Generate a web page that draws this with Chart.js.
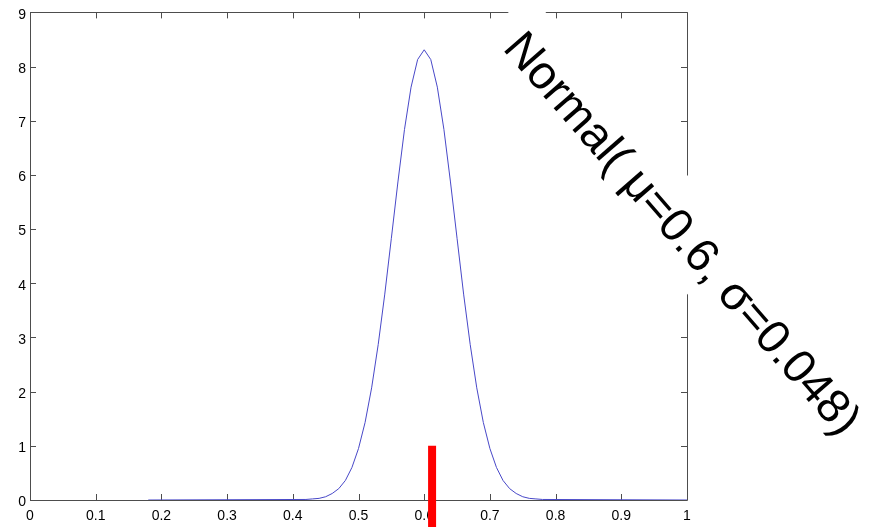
<!DOCTYPE html>
<html>
<head>
<meta charset="utf-8">
<script src="https://cdn.jsdelivr.net/npm/chart.js@4.4.1/dist/chart.umd.min.js"></script>
<style>
  html, body { margin: 0; padding: 0; background: #ffffff; }
  #wrap { width: 874px; height: 527px; }
</style>
</head>
<body>
<div id="wrap"><canvas id="c" width="874" height="527"></canvas></div>
<script>
// Density curve samples
const densityX = [0.18, 0.42, 0.43, 0.44, 0.45, 0.46, 0.47, 0.48, 0.49, 0.50, 0.51, 0.52, 0.53, 0.54,
                  0.55, 0.56, 0.57, 0.58, 0.59, 0.60, 0.61, 0.62, 0.63, 0.64, 0.65, 0.66, 0.67, 0.68,
                  0.69, 0.70, 0.71, 0.72, 0.73, 0.74, 0.75, 0.76, 0.77, 0.78, 1.00];
const densityY = [0.00, 0.01, 0.02, 0.03, 0.06, 0.12, 0.21, 0.36, 0.60, 0.95, 1.43, 2.07, 2.87, 3.80,
                  4.83, 5.87, 6.84, 7.62, 8.13, 8.31, 8.13, 7.62, 6.84, 5.87, 4.83, 3.80, 2.87, 2.07,
                  1.43, 0.95, 0.60, 0.36, 0.21, 0.12, 0.06, 0.03, 0.02, 0.01, 0.00];

// Observed value marker (drawn as a thick vertical stroke running past the axis)
const markerX = 0.612;
const markerY = [1, -0.5];

// Axis ticks
const xTicks = [0, 0.1, 0.2, 0.3, 0.4, 0.5, 0.6, 0.7, 0.8, 0.9, 1];
const yTicks = [0, 1, 2, 3, 4, 5, 6, 7, 8, 9];

// Annotation
const annotationText = 'Normal( \u03bc=0.6, \u03c3=0.048)';
const annotationAt = { x: 0.718, y: 8.33 };
const annotationAngleDeg = 49;

const AXIS_COLOR = '#4d4d4d';
const TICK_LEN = 6;

// Boxed frame with inward ticks on all four sides
const framePlugin = {
  id: 'frame',
  beforeDatasetsDraw(chart) {
    const { ctx, chartArea: a, scales } = chart;
    ctx.save();
    ctx.strokeStyle = AXIS_COLOR;
    ctx.lineWidth = 1;
    ctx.beginPath();
    ctx.rect(Math.round(a.left) + 0.5, Math.round(a.top) + 0.5,
             Math.round(a.right - a.left), Math.round(a.bottom - a.top));
    ctx.stroke();
    ctx.beginPath();
    xTicks.forEach(v => {
      const px = Math.round(scales.x.getPixelForValue(v)) + 0.5;
      ctx.moveTo(px, a.bottom); ctx.lineTo(px, a.bottom - TICK_LEN);
      ctx.moveTo(px, a.top); ctx.lineTo(px, a.top + TICK_LEN);
    });
    yTicks.forEach(v => {
      const py = Math.round(scales.y.getPixelForValue(v)) + 0.5;
      ctx.moveTo(a.left, py); ctx.lineTo(a.left + TICK_LEN, py);
      ctx.moveTo(a.right, py); ctx.lineTo(a.right - TICK_LEN, py);
    });
    ctx.stroke();
    ctx.restore();
  }
};

// Rotated label on a white backing box
const annotationPlugin = {
  id: 'annotation',
  afterDraw(chart) {
    const { ctx, scales } = chart;
    const px = scales.x.getPixelForValue(annotationAt.x);
    const py = scales.y.getPixelForValue(annotationAt.y);
    ctx.save();
    ctx.translate(px, py);
    ctx.rotate(annotationAngleDeg * Math.PI / 180);
    ctx.font = '47px "Liberation Sans", Arial, sans-serif';
    const w = ctx.measureText(annotationText).width;
    ctx.fillStyle = '#ffffff';
    ctx.fillRect(-23, -57, w + 33, 57 + 21);
    ctx.fillStyle = '#000000';
    ctx.textBaseline = 'alphabetic';
    ctx.fillText(annotationText, 0, 0);
    ctx.restore();
  }
};

const tickFont = { family: '"Liberation Sans", Arial, sans-serif', size: 14 };

new Chart(document.getElementById('c'), {
  type: 'line',
  data: {
    datasets: [
      {
        data: densityX.map((x, i) => ({ x, y: densityY[i] })),
        borderColor: 'rgb(72,72,200)',
        borderWidth: 1,
        pointRadius: 0,
        tension: 0,
        fill: false
      },
      {
        data: markerY.map(y => ({ x: markerX, y })),
        borderColor: '#ff0000',
        borderWidth: 8,
        borderCapStyle: 'butt',
        pointRadius: 0,
        clip: false,
        fill: false
      }
    ]
  },
  options: {
    responsive: false,
    devicePixelRatio: 1,
    animation: false,
    layout: { padding: { top: 11, right: 187, left: 0, bottom: 0 } },
    plugins: { legend: { display: false }, tooltip: { enabled: false } },
    scales: {
      x: {
        type: 'linear',
        min: 0, max: 1,
        afterBuildTicks: s => { s.ticks = xTicks.map(value => ({ value })); },
        afterFit: s => { s.height = 27; },
        grid: { display: false, drawTicks: false },
        border: { display: false },
        ticks: {
          font: tickFont, color: '#000000', padding: 8, maxRotation: 0, autoSkip: false,
          callback: v => String(Number(v.toFixed(1)))
        }
      },
      y: {
        type: 'linear',
        min: 0, max: 9,
        afterBuildTicks: s => { s.ticks = yTicks.map(value => ({ value })); },
        afterFit: s => { s.width = 30; },
        grid: { display: false, drawTicks: false },
        border: { display: false },
        ticks: {
          font: tickFont, color: '#000000', padding: 4, labelOffset: 2.5,
          callback: v => String(v)
        }
      }
    }
  },
  plugins: [framePlugin, annotationPlugin]
});
</script>
</body>
</html>
